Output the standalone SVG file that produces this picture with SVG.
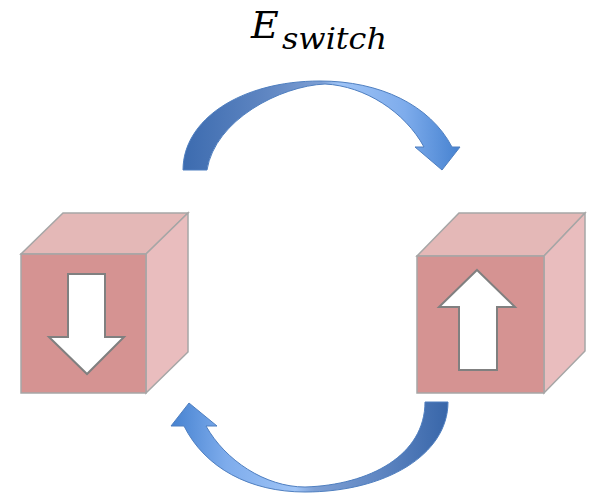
<svg xmlns="http://www.w3.org/2000/svg" width="590" height="495" viewBox="0 0 590 495">
<style>
.front{fill:#d59392;stroke:#a6a6a6;stroke-width:1.5}
.top{fill:#e4b8b7;stroke:#a6a6a6;stroke-width:1.5}
.side{fill:#e9bdbe;stroke:#a6a6a6;stroke-width:1.5}
.spin{fill:#ffffff;stroke:#808080;stroke-width:2}
.curve{stroke:#4f7fc0;stroke-width:1}
.math{font-family:"DejaVu Serif","Liberation Serif",serif;font-style:italic;fill:#000}
</style>
<defs>
<linearGradient id="gTop" gradientUnits="userSpaceOnUse" x1="183" y1="0" x2="460" y2="0">
<stop offset="0" stop-color="#3c6baf"/>
<stop offset="0.3" stop-color="#5f86c2"/>
<stop offset="0.5" stop-color="#7d9fd4"/>
<stop offset="0.56" stop-color="#9fc4f6"/>
<stop offset="0.8" stop-color="#7eacec"/>
<stop offset="1" stop-color="#4682d0"/>
</linearGradient>
<linearGradient id="gBot" gradientUnits="userSpaceOnUse" x1="171" y1="0" x2="448" y2="0">
<stop offset="0" stop-color="#4682d0"/>
<stop offset="0.2" stop-color="#7eacec"/>
<stop offset="0.45" stop-color="#9fc4f6"/>
<stop offset="0.52" stop-color="#7d9fd4"/>
<stop offset="0.75" stop-color="#5f86c2"/>
<stop offset="1" stop-color="#3866a9"/>
</linearGradient>
</defs>
<text class="math" x="251" y="38" font-size="38">E</text>
<text class="math" x="282" y="49" font-size="30" textLength="105" lengthAdjust="spacingAndGlyphs">switch</text>
<g id="connectors">
<path class="curve" fill="url(#gTop)" d="M183,170 C183,120 240,81 320,81 C380,81 430,105 452,147 L460,147 L442,170 L415,147 L424,147 C405,112 365,86 325,84 C280,86 215,120 207,170 Z"/>
<path class="curve" fill="url(#gBot)" d="M448,402 C448,455 385,492 305,492 C250,492 205,468 184,426 L171,426 L189,403 L217,426 L206,426 C225,460 265,487 305,487 C370,485 425,455 425,402 Z"/>
</g>
<g id="cube-down">
<polygon class="top" points="21,254 146,254 188,213 63,213"/>
<polygon class="side" points="146,254 188,213 188,352 146,393"/>
<rect class="front" x="21" y="254" width="125" height="139"/>
<polygon class="spin" points="68,274 105,274 105,337 124,337 87,374 49,337 68,337"/>
</g>
<g id="cube-up">
<polygon class="top" points="417,256 544,256 585,213 459,213"/>
<polygon class="side" points="544,256 585,213 585,351 544,393"/>
<rect class="front" x="417" y="256" width="127" height="137"/>
<polygon class="spin" points="477,270 515,307 497,307 497,370 459,370 459,307 439,307"/>
</g>
</svg>
